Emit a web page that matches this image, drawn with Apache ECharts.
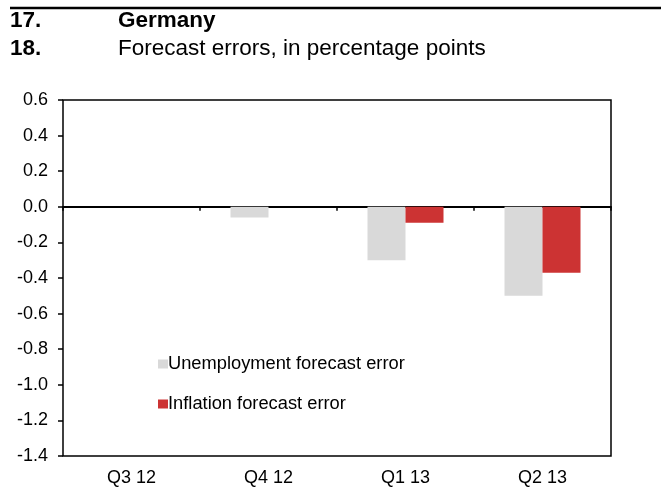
<!DOCTYPE html>
<html>
<head>
<meta charset="utf-8">
<style>
html, body {
  margin: 0;
  padding: 0;
  background: #fff;
}
#chart {
  width: 661px;
  height: 493px;
}
</style>
<script src="https://cdn.jsdelivr.net/npm/echarts@6/dist/echarts.min.js"></script>
</head>
<body>
<div id="chart"></div>
<script>
// data
const quarters = ['Q3 12', 'Q4 12', 'Q1 13', 'Q2 13']
const unemploymentErr = [0, -0.06, -0.30, -0.50]
const inflationErr = [0, 0, -0.09, -0.37]

const FONT = 'Liberation Sans, Arial, sans-serif'
const titleStyle = (weight) => ({ fontFamily: FONT, fontSize: 22.5, fontWeight: weight, color: '#000' })

const chart = echarts.init(document.getElementById('chart'), null, { renderer: 'canvas' })

const option = {
  animation: false,
  title: [
    { text: '17.', left: 10, top: 9, padding: 0, textStyle: titleStyle('bold') },
    { text: 'Germany', left: 118, top: 9, padding: 0, textStyle: titleStyle('bold') },
    { text: '18.', left: 10, top: 37, padding: 0, textStyle: titleStyle('bold') },
    { text: 'Forecast errors, in percentage points', left: 118, top: 37, padding: 0, textStyle: titleStyle('normal') }
  ],
  graphic: [
    { type: 'line', shape: { x1: 10, y1: 8, x2: 661, y2: 8 }, style: { stroke: '#000', lineWidth: 2.5 } }
  ],
  legend: {
    orient: 'vertical',
    left: 153,
    top: 350,
    itemWidth: 10,
    itemHeight: 9,
    itemGap: 22,
    icon: 'rect',
    textStyle: { fontFamily: FONT, fontSize: 18.3, color: '#000', padding: [0, 0, 0, -5] },
    data: ['Unemployment forecast error', 'Inflation forecast error']
  },
  grid: {
    left: 63,
    right: 50,
    top: 100,
    bottom: 37,
    show: true,
    borderColor: '#000',
    borderWidth: 1.5,
    backgroundColor: 'transparent'
  },
  xAxis: [
    {
      type: 'category',
      data: quarters,
      position: 'bottom',
      axisLine: { show: false, onZero: false },
      axisTick: { show: false },
      axisLabel: { fontFamily: FONT, fontSize: 18, color: '#000', margin: 13 }
    },
    {
      type: 'category',
      data: quarters,
      position: 'bottom',
      axisLine: { show: true, onZero: true, lineStyle: { color: '#000', width: 2 } },
      axisTick: { show: true, length: 4, lineStyle: { color: '#000', width: 1.5 } },
      axisLabel: { show: false }
    }
  ],
  yAxis: {
    type: 'value',
    min: -1.4,
    max: 0.6,
    interval: 0.2,
    axisLine: { show: false },
    axisTick: { show: true, length: 5, lineStyle: { color: '#000', width: 1.5 } },
    splitLine: { show: false },
    axisLabel: {
      fontFamily: FONT,
      fontSize: 18,
      color: '#000',
      margin: 15,
      formatter: v => v.toFixed(1)
    }
  },
  series: [
    {
      name: 'Unemployment forecast error',
      type: 'bar',
      data: unemploymentErr,
      barWidth: 38,
      barGap: '0%',
      itemStyle: { color: '#D9D9D9' }
    },
    {
      name: 'Inflation forecast error',
      type: 'bar',
      data: inflationErr,
      barWidth: 38,
      barGap: '0%',
      itemStyle: { color: '#CC3333' }
    }
  ]
}

chart.setOption(option)
</script>
</body>
</html>
